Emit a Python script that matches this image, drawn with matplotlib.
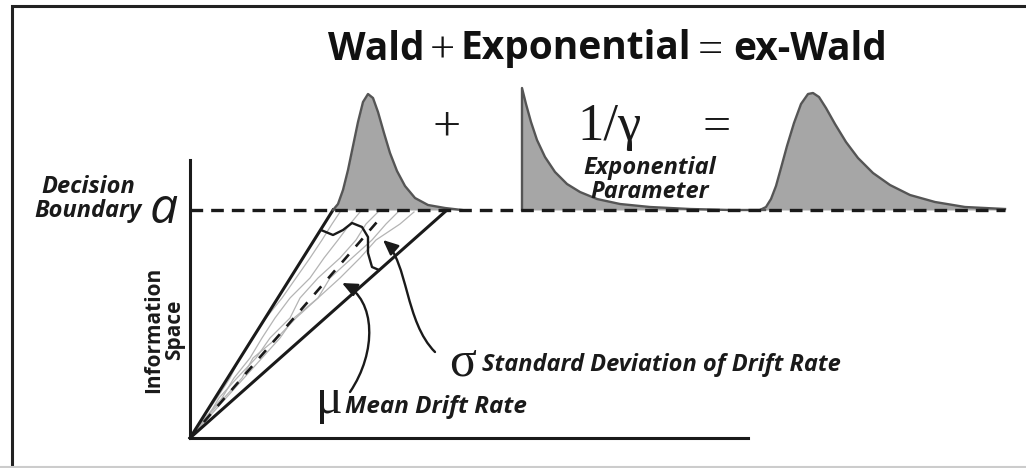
import matplotlib
matplotlib.use("Agg")
import matplotlib.pyplot as plt
from matplotlib.patches import FancyArrowPatch
from matplotlib.path import Path

# canvas in pixel units (y grows downwards)
W, H = 1026, 468

# ---- data ----
origin = (190, 438)
boundary_y = 210
axis_top = 160
axis_right = 748
wedge_left_top = 333
wedge_right_top = 447
mean_top = (383, 215)

# Wald density (first curve)
wald_x = [333, 338, 343, 348, 353, 358, 363, 368, 373, 378, 384, 390, 397, 405, 415, 428, 445, 462]
wald_y = [210, 204, 190, 170, 146, 122, 102, 94, 98, 112, 133, 153, 171, 186, 198, 205, 208, 210]

# exponential density
expo_x = [522, 522, 526, 531, 537, 545, 555, 567, 580, 597, 620, 650, 690, 730, 765]
expo_y = [210, 88, 104, 122, 140, 157, 172, 184, 192, 199, 204, 207, 209, 210, 210]

# ex-Wald density
exw_x = [760, 766, 771, 776, 781, 787, 794, 801, 808, 813, 819, 826, 835, 846, 858, 873, 890, 910, 935, 965, 1005]
exw_y = [210, 207, 199, 186, 168, 146, 123, 104, 94, 93, 97, 108, 124, 142, 158, 173, 185, 195, 202, 207, 209]

# sigma bracket
sig_x = [321, 333, 343, 352, 362, 368, 368, 372, 379]
sig_y = [230, 235, 230, 223, 227, 237, 253, 267, 270]

# curved arrows (bezier control points)
mu_arrow = [(350, 392), (377, 352), (376, 300), (342, 283)]
sigma_arrow = [(435, 352), (405, 322), (408, 262), (383, 240)]

# gray sample paths of the accumulator
path_levels = [438, 418, 398, 378, 358, 338, 318, 298, 278, 258, 240, 224, 212]
gray_paths = [
    [190, 203, 217, 230, 240, 252, 266, 282, 296, 310, 322, 332, 340],
    [190, 205, 222, 234, 250, 262, 275, 290, 310, 324, 338, 350, 360],
    [190, 207, 219, 237, 256, 270, 290, 300, 318, 340, 356, 366, 378],
    [190, 206, 224, 242, 253, 277, 296, 318, 330, 352, 372, 386, 398],
    [190, 208, 226, 244, 262, 280, 294, 318, 340, 360, 376, 400, 414],
]

# title pieces: text, x anchor, alignment
title_parts = [("Wald", 328, "left"), ("+", 442, "center"), ("Exponential", 460, "left"),
               ("=", 710, "center"), ("ex-Wald", 733, "left")]

sans = "Open Sans"
serif = "Liberation Serif"
ink = "#1a1a1a"
fill_c = "#a6a6a6"
edge_c = "#555555"

fig = plt.figure(figsize=(W / 100, H / 100), dpi=100)
ax = fig.add_axes([0, 0, 1, 1])
ax.set_xlim(0, W)
ax.set_ylim(H, 0)
ax.axis("off")

# outer frame
ax.plot([12, 12, W], [H, 6, 6], color="#222222", lw=2.2, solid_joinstyle="miter")
ax.plot([0, W], [467, 467], color="#cccccc", lw=1.5)

# gray sample paths
for xs in gray_paths:
    ax.plot(xs, path_levels, color="#b4b4b4", lw=0.9, zorder=2)

# axes of information space
ax.plot([origin[0], origin[0], axis_right], [axis_top, origin[1], origin[1]],
        color=ink, lw=2.2, solid_joinstyle="miter", zorder=3)

# drift wedge
ax.plot([origin[0], wedge_left_top], [origin[1], boundary_y], color=ink, lw=2.2, zorder=3)
ax.plot([origin[0], wedge_right_top], [origin[1], boundary_y], color=ink, lw=2.2, zorder=3)
ax.plot([origin[0], mean_top[0]], [origin[1], mean_top[1]], color=ink, lw=1.9,
        linestyle=(0, (4.0, 4.0)), zorder=3)

# densities
for xs, ys in [(wald_x, wald_y), (expo_x, expo_y), (exw_x, exw_y)]:
    ax.fill_between(xs, ys, boundary_y, color=fill_c, lw=0, zorder=2)
    ax.plot(xs, ys, color=edge_c, lw=1.7, zorder=3)

# decision boundary
ax.plot([origin[0], 1005], [boundary_y, boundary_y], color=ink, lw=2.4,
        linestyle=(0, (3.8, 2.4)), zorder=4)

# sigma bracket
ax.plot(sig_x, sig_y, color=ink, lw=1.7, zorder=4)

# curved arrows
codes = [Path.MOVETO, Path.CURVE4, Path.CURVE4, Path.CURVE4]
for pts in (mu_arrow, sigma_arrow):
    arr = FancyArrowPatch(path=Path(pts, codes), arrowstyle="-|>,head_length=0.9,head_width=0.4",
                          mutation_scale=10, color=ink, lw=1.7, zorder=5)
    ax.add_patch(arr)

# title
for txt, xa, ha in title_parts:
    if txt in "+=":
        ax.text(xa, 51, txt, ha=ha, va="center", fontsize=32, family=serif, color="#111111")
    else:
        ax.text(xa, 49, txt, ha=ha, va="center", fontsize=28, fontweight="bold",
                family=sans, color="#111111")

# equation symbols between curves
ax.text(447, 128, "+", ha="center", va="center", fontsize=36, family=serif, color=ink)
ax.text(717, 128, "=", ha="center", va="center", fontsize=36, family=serif, color=ink)
ax.text(609, 140, "1/γ", ha="center", va="baseline", fontsize=38, family=serif, color=ink)
ax.text(650, 180, "Exponential\nParameter", ha="center", va="center", fontsize=17,
        fontweight="bold", style="italic", family=sans, color=ink, linespacing=0.95)

# boundary label
ax.text(88, 199, "Decision\nBoundary", ha="center", va="center", fontsize=17,
        fontweight="bold", style="italic", family=sans, color=ink, linespacing=0.95)
ax.text(164, 223, "a", ha="center", va="baseline", fontsize=36, style="italic",
        family=sans, color=ink)

# y label
ax.text(164, 330, "Information\nSpace", ha="center", va="center", rotation=90,
        fontsize=15, fontweight="bold", family=sans, color=ink, linespacing=1.0)

# drift labels
ax.text(329, 413, "μ", ha="center", va="baseline", fontsize=36, family=serif, color=ink)
ax.text(345, 407, "Mean Drift Rate", ha="left", va="center", fontsize=17.5,
        fontweight="bold", style="italic", family=sans, color=ink)
ax.text(463, 375, "σ", ha="center", va="baseline", fontsize=36, family=serif, color=ink)
ax.text(482, 365, "Standard Deviation of Drift Rate", ha="left", va="center", fontsize=17,
        fontweight="bold", style="italic", family=sans, color=ink)

fig.savefig("out.png", dpi=100)
